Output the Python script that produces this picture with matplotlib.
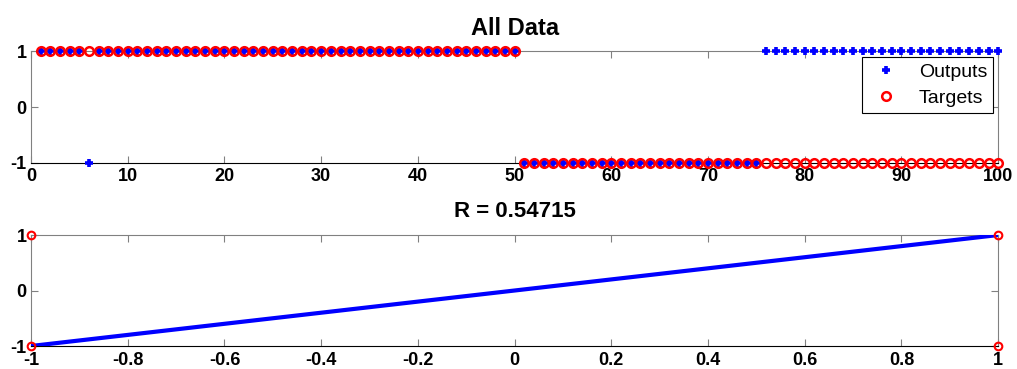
import matplotlib
matplotlib.use('Agg')
import matplotlib.pyplot as plt
import numpy as np

plt.rcParams['font.family'] = ['Liberation Sans', 'DejaVu Sans']
plt.rcParams['axes.unicode_minus'] = False

# sample index 1..100
samples = list(range(1, 101))
targets = [1, 1, 1, 1, 1, 1, 1, 1, 1, 1, 1, 1, 1, 1, 1, 1, 1, 1, 1, 1,
           1, 1, 1, 1, 1, 1, 1, 1, 1, 1, 1, 1, 1, 1, 1, 1, 1, 1, 1, 1,
           1, 1, 1, 1, 1, 1, 1, 1, 1, 1, -1, -1, -1, -1, -1, -1, -1, -1, -1, -1,
           -1, -1, -1, -1, -1, -1, -1, -1, -1, -1, -1, -1, -1, -1, -1, -1, -1, -1, -1, -1,
           -1, -1, -1, -1, -1, -1, -1, -1, -1, -1, -1, -1, -1, -1, -1, -1, -1, -1, -1, -1]
outputs = [1, 1, 1, 1, 1, -1, 1, 1, 1, 1, 1, 1, 1, 1, 1, 1, 1, 1, 1, 1,
           1, 1, 1, 1, 1, 1, 1, 1, 1, 1, 1, 1, 1, 1, 1, 1, 1, 1, 1, 1,
           1, 1, 1, 1, 1, 1, 1, 1, 1, 1, -1, -1, -1, -1, -1, -1, -1, -1, -1, -1,
           -1, -1, -1, -1, -1, -1, -1, -1, -1, -1, -1, -1, -1, -1, -1, 1, 1, 1, 1, 1,
           1, 1, 1, 1, 1, 1, 1, 1, 1, 1, 1, 1, 1, 1, 1, 1, 1, 1, 1, 1]

# regression panel
reg_targets = [-1, -1, 1, 1]
reg_outputs = [1, -1, 1, -1]
fit_x = [-1, 1]
fit_y = [-1, 1]
r_value = 0.54715

GRAY = "#808080"

def style(ax):
    for s in ("left", "top", "right"):
        ax.spines[s].set_color(GRAY)
    ax.spines["bottom"].set_color("black")
    ax.tick_params(direction="in", top=True, right=True, length=5, color=GRAY,
                   labelsize=13)
    ax.tick_params(axis="x", pad=4)
    ax.tick_params(axis="y", pad=3)
    for lab in ax.get_xticklabels() + ax.get_yticklabels():
        lab.set_fontweight("bold")

fig = plt.figure(figsize=(10.17, 3.69), dpi=100)
ax1 = fig.add_axes([0.0305, 0.5585, 0.951, 0.3025])
ax2 = fig.add_axes([0.0305, 0.0623, 0.951, 0.3008])

ax1.plot(samples, outputs, "+", color="blue", ms=5.5, mew=2.6, ls="none",
         label="Outputs", clip_on=False, zorder=3)
ax1.plot(samples, targets, "o", mfc="none", mec="red", mew=1.8, ms=6.2, ls="none",
         label="Targets", clip_on=False, zorder=4)
ax1.set_xlim(0, 100)
ax1.set_ylim(-1, 1)
ax1.set_xticks(np.arange(0, 101, 10))
ax1.set_yticks([-1, 0, 1])
ax1.set_title("All Data", fontsize=17, fontweight="bold", pad=12)
leg = ax1.legend(loc="upper right", bbox_to_anchor=(0.9945, 0.945), fontsize=14,
                 fancybox=False, framealpha=1, edgecolor="black",
                 borderpad=0.3, labelspacing=0.45, handletextpad=0.8,
                 handlelength=1.8, borderaxespad=0)
leg.get_frame().set_linewidth(0.8)
style(ax1)

ax2.plot(fit_x, fit_y, color="blue", lw=3, zorder=3)
ax2.plot(reg_targets, reg_outputs, "o", mfc="none", mec="red", mew=1.5, ms=5.5,
         ls="none", clip_on=False, zorder=4)
ax2.set_xlim(-1, 1)
ax2.set_ylim(-1, 1)
ax2.set_xticks(np.round(np.arange(-1, 1.01, 0.2), 1))
ax2.set_xticklabels(["-1", "-0.8", "-0.6", "-0.4", "-0.2", "0",
                     "0.2", "0.4", "0.6", "0.8", "1"])
ax2.set_yticks([-1, 0, 1])
ax2.set_title(f"R = {r_value}", fontsize=16, fontweight="bold", pad=13)
style(ax2)

fig.savefig("out.png", dpi=100)
